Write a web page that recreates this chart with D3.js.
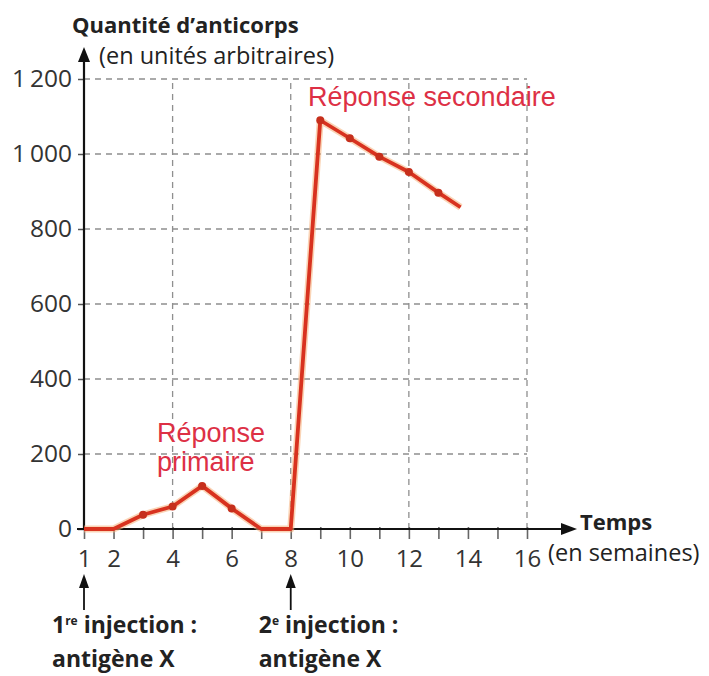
<!DOCTYPE html>
<html>
<head>
<meta charset="utf-8">
<script src="https://cdn.jsdelivr.net/npm/d3@7"></script>
<style>
  html, body { margin: 0; padding: 0; background: #ffffff; }
  svg { display: block; }
  .tick text { font-family: "Open Sans", sans-serif; fill: #333; }
</style>
</head>
<body>
<svg id="chart" width="709" height="676"></svg>
<script>
// Anticorps produits après deux injections d'un même antigène
const weeks = [1, 2, 3, 4, 5, 6, 7, 8, 9, 10, 11, 12, 13, 13.75];
const antibodies = [0, 0, 38, 60, 115, 55, 0, 0, 1090, 1042, 993, 952, 897, 858];
const markedWeeks = [3, 4, 5, 6, 9, 10, 11, 12, 13];

const xTicks = [1, 2, 3, 4, 5, 6, 7, 8, 9, 10, 11, 12, 13, 14, 15, 16];
const xTickLabels = [1, 2, 4, 6, 8, 10, 12, 14, 16];
const yTicks = [0, 200, 400, 600, 800, 1000, 1200];
const xGrid = [4, 8, 12, 16];
const yGrid = [200, 400, 600, 800, 1000, 1200];

const injections = [
  { week: 1, num: "1", sup: "re", text: " injection :", sub: "antigène X" },
  { week: 8, num: "2", sup: "e", text: " injection :", sub: "antigène X" }
];

const svg = d3.select("#chart");
const x = d3.scaleLinear().domain([1, 16]).range([84, 527]);
const y = d3.scaleLinear().domain([0, 1200]).range([529, 79]);

const red = "#d8321f";
const textRed = "#dd3045";

// dashed grid
const grid = svg.append("g").attr("stroke", "#8f8f8f").attr("stroke-width", 1.3)
  .attr("stroke-dasharray", "6,5");
grid.selectAll("line.h").data(yGrid).join("line").attr("class", "h")
  .attr("x1", x(1)).attr("x2", x(16))
  .attr("y1", d => y(d)).attr("y2", d => y(d));
grid.selectAll("line.v").data(xGrid).join("line").attr("class", "v")
  .attr("x1", d => x(d)).attr("x2", d => x(d))
  .attr("y1", y(0)).attr("y2", y(1200));

// y axis
const thin = d3.formatLocale({ decimal: ",", thousands: "\u2009", grouping: [3], currency: ["", ""] });
const yAxis = d3.axisLeft(y).tickValues(yTicks).tickSize(6).tickPadding(6)
  .tickFormat(thin.format(",d"));
const gy = svg.append("g").attr("transform", `translate(${x(1)},0)`).call(yAxis);
gy.select(".domain").remove();
gy.selectAll(".tick line").attr("stroke", "#555").attr("stroke-width", 1.5);
gy.selectAll(".tick text").attr("font-size", 24.5);

// x axis
const xAxis = d3.axisBottom(x).tickValues(xTicks).tickSize(12).tickPadding(11)
  .tickFormat(d => xTickLabels.includes(d) ? d : "");
const gx = svg.append("g").attr("transform", `translate(0,${y(0) - 2})`).call(xAxis);
gx.select(".domain").remove();
gx.selectAll(".tick line").attr("stroke", "#666").attr("stroke-width", 1.6);
gx.selectAll(".tick text").attr("font-size", 24);

// axis lines with arrow heads
svg.append("line").attr("x1", 77).attr("x2", 565).attr("y1", y(0)).attr("y2", y(0))
  .attr("stroke", "#111").attr("stroke-width", 2.2);
svg.append("path").attr("d", `M577,${y(0)} L561,${y(0) - 6} L561,${y(0) + 6} Z`).attr("fill", "#111");
svg.append("line").attr("x1", x(1)).attr("x2", x(1)).attr("y1", y(0)).attr("y2", 60)
  .attr("stroke", "#111").attr("stroke-width", 2.2);
svg.append("path").attr("d", `M${x(1)},47 L${x(1) - 6},62 L${x(1) + 6},62 Z`).attr("fill", "#111");

// axis titles
svg.append("text").attr("x", 72).attr("y", 33)
  .attr("font-family", "Open Sans, sans-serif").attr("font-weight", 700).attr("font-size", 22)
  .attr("fill", "#222").text("Quantité d’anticorps");
svg.append("text").attr("x", 99).attr("y", 64)
  .attr("font-family", "Open Sans, sans-serif").attr("font-size", 23.5)
  .attr("fill", "#222").text("(en unités arbitraires)");
svg.append("text").attr("x", 580).attr("y", 530)
  .attr("font-family", "Open Sans, sans-serif").attr("font-weight", 700).attr("font-size", 22)
  .attr("fill", "#222").text("Temps");
svg.append("text").attr("x", 548).attr("y", 561)
  .attr("font-family", "Open Sans, sans-serif").attr("font-size", 23.5)
  .attr("fill", "#222").text("(en semaines)");

// antibody curve
const line = d3.line().x((d, i) => x(weeks[i])).y(d => y(d));
svg.append("path").datum(antibodies).attr("d", line)
  .attr("fill", "none").attr("stroke", "#f6b07a").attr("stroke-width", 7)
  .attr("stroke-linejoin", "round").attr("opacity", 0.55);
svg.append("path").datum(antibodies).attr("d", line)
  .attr("fill", "none").attr("stroke", red).attr("stroke-width", 3.8)
  .attr("stroke-linejoin", "round");
svg.append("g").selectAll("circle")
  .data(weeks.map((w, i) => ({ w, v: antibodies[i] })).filter(d => markedWeeks.includes(d.w)))
  .join("circle")
  .attr("cx", d => x(d.w)).attr("cy", d => y(d.v)).attr("r", 4).attr("fill", "#c62f1c");

// response labels
svg.append("text").attr("x", 308).attr("y", 106)
  .attr("font-family", "Liberation Sans, Arial, sans-serif").attr("font-size", 27)
  .attr("fill", textRed).text("Réponse secondaire");
const prim = svg.append("text").attr("x", 157).attr("y", 442)
  .attr("font-family", "Liberation Sans, Arial, sans-serif").attr("font-size", 27)
  .attr("fill", textRed);
prim.append("tspan").attr("x", 157).text("Réponse");
prim.append("tspan").attr("x", 157).attr("dy", 29).text("primaire");

// injection markers
const inj = svg.append("g").selectAll("g").data(injections).join("g");
inj.append("line").attr("x1", d => x(d.week)).attr("x2", d => x(d.week))
  .attr("y1", 610).attr("y2", 585).attr("stroke", "#111").attr("stroke-width", 1.8);
inj.append("path").attr("d", d => `M${x(d.week)},574 L${x(d.week) - 5},588 L${x(d.week) + 5},588 Z`)
  .attr("fill", "#111");
const lab = inj.append("text")
  .attr("font-family", "Open Sans, sans-serif").attr("font-weight", 700).attr("font-size", 23)
  .attr("fill", "#222");
lab.append("tspan").attr("x", d => x(d.week) - 32).attr("y", 633).text(d => d.num);
lab.append("tspan").attr("dy", -8).attr("font-size", 12).text(d => d.sup);
lab.append("tspan").attr("dy", 8).text(d => d.text);
lab.append("tspan").attr("x", d => x(d.week) - 32).attr("y", 667).text(d => d.sub);
</script>
</body>
</html>
